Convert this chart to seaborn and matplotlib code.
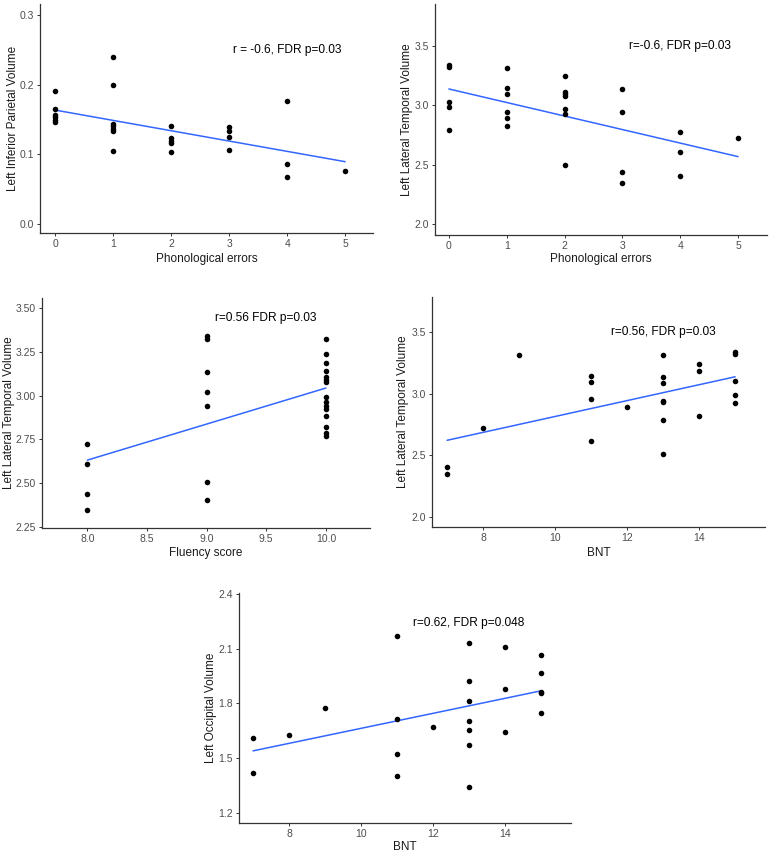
import matplotlib
matplotlib.use("Agg")
import matplotlib.pyplot as plt
import seaborn as sns
import numpy as np
import pandas as pd

sns.set_style("ticks")
plt.rcParams['font.family'] = ['Liberation Sans', 'DejaVu Sans']

# ---- Data ----
# Panel 1: Phonological errors vs Left Inferior Parietal Volume
p1_x = [0, 0, 0, 0, 0, 0,
        1, 1, 1, 1, 1, 1, 1,
        2, 2, 2, 2, 2,
        3, 3, 3, 3,
        4, 4, 4,
        5]
p1_y = [0.191, 0.1655, 0.157, 0.153, 0.150, 0.146,
        0.240, 0.1995, 0.144, 0.141, 0.136, 0.133, 0.105,
        0.141, 0.123, 0.119, 0.116, 0.103,
        0.139, 0.134, 0.1245, 0.106,
        0.176, 0.086, 0.0675,
        0.0756]

# Panel 2: Phonological errors vs Left Lateral Temporal Volume
p2_x = [0, 0, 0, 0, 0,
        1, 1, 1, 1, 1, 1,
        2, 2, 2, 2, 2, 2, 2,
        3, 3, 3, 3,
        4, 4, 4,
        5]
p2_y = [3.343, 3.32, 3.03, 2.985, 2.79,
        3.318, 3.145, 3.097, 2.94, 2.89, 2.826,
        3.245, 3.11, 3.095, 3.08, 2.965, 2.93, 2.50,
        3.136, 2.943, 2.44, 2.344,
        2.772, 2.61, 2.40,
        2.728]

# Panel 3: Fluency score vs Left Lateral Temporal Volume
p3_x = [8, 8, 8, 8,
        9, 9, 9, 9, 9, 9, 9,
        10, 10, 10, 10, 10, 10, 10, 10, 10, 10, 10, 10, 10, 10, 10]
p3_y = [2.724, 2.612, 2.44, 2.347,
        3.338, 3.323, 3.132, 3.022, 2.942, 2.507, 2.402,
        3.323, 3.239, 3.187, 3.142, 3.105, 3.09, 3.08, 2.989, 2.963,
        2.938, 2.925, 2.886, 2.818, 2.785, 2.772]

# Panel 4: BNT vs Left Lateral Temporal Volume
p4_x = [7, 7, 8, 9,
        11, 11, 11, 11,
        12,
        13, 13, 13, 13, 13, 13, 13,
        14, 14, 14,
        15, 15, 15, 15, 15]
p4_y = [2.403, 2.349, 2.724, 3.316,
        3.141, 3.092, 2.954, 2.614,
        2.889,
        3.316, 3.132, 3.086, 2.943, 2.935, 2.784, 2.508,
        3.24, 3.186, 2.819,
        3.338, 3.322, 3.105, 2.986, 2.924]

# Panel 5: BNT vs Left Occipital Volume
p5_x = [7, 7, 8, 9,
        11, 11, 11, 11,
        12,
        13, 13, 13, 13, 13, 13, 13,
        14, 14, 14,
        15, 15, 15, 15, 15]
p5_y = [1.609, 1.418, 1.627, 1.773,
        2.171, 1.716, 1.522, 1.405,
        1.671,
        2.133, 1.925, 1.815, 1.704, 1.655, 1.571, 1.344,
        2.107, 1.88, 1.642,
        2.062, 1.964, 1.862, 1.855, 1.745]

x_labels = ["Phonological errors", "Phonological errors", "Fluency score", "BNT", "BNT"]
y_labels = ["Left Inferior Parietal Volume", "Left Lateral Temporal Volume",
            "Left Lateral Temporal Volume", "Left Lateral Temporal Volume",
            "Left Occipital Volume"]
annotations = ["r = -0.6, FDR p=0.03", "r=-0.6, FDR p=0.03", "r=0.56 FDR p=0.03",
               "r=0.56, FDR p=0.03", "r=0.62, FDR p=0.048"]
annot_pos = [(4, 0.25), (4, 3.5), (9.5, 3.445), (13, 3.5), (13, 2.24)]

W, H = 772, 857
fig = plt.figure(figsize=(W / 100, H / 100), dpi=100)

# axes boxes in pixels: left, top, right, bottom
boxes = [(40, 4, 373, 233), (435, 4, 767, 235), (42, 298, 370, 528),
         (432, 297, 765, 527), (239, 593, 571, 823)]
xlims = [(-0.26, 5.48), (-0.24, 5.5), (7.62, 10.37), (6.58, 15.83), (6.61, 15.83)]
ylims = [(-0.013, 0.316), (1.907, 3.853), (2.244, 3.557), (1.919, 3.784), (1.145, 2.404)]
xticks = [[0, 1, 2, 3, 4, 5], [0, 1, 2, 3, 4, 5], [8.0, 8.5, 9.0, 9.5, 10.0],
          [8, 10, 12, 14], [8, 10, 12, 14]]
xfmt = ["{:.0f}", "{:.0f}", "{:.1f}", "{:.0f}", "{:.0f}"]
yticks = [[0.0, 0.1, 0.2, 0.3], [2.0, 2.5, 3.0, 3.5], [2.25, 2.50, 2.75, 3.00, 3.25, 3.50],
          [2.0, 2.5, 3.0, 3.5], [1.2, 1.5, 1.8, 2.1, 2.4]]
yfmt = ["{:.1f}", "{:.1f}", "{:.2f}", "{:.1f}", "{:.1f}"]
ylab_x = [-0.082, -0.085, -0.10, -0.086, -0.085]
xlab_y = [-0.115, -0.105, -0.11, -0.112, -0.103]

xs = [p1_x, p2_x, p3_x, p4_x, p5_x]
ys = [p1_y, p2_y, p3_y, p4_y, p5_y]

for i in range(5):
    l, t, r, b = boxes[i]
    ax = fig.add_axes([l / W, 1 - b / H, (r - l) / W, (b - t) / H])
    df = pd.DataFrame({"x": xs[i], "y": ys[i]})
    sns.regplot(data=df, x="x", y="y", ax=ax, ci=None, color="black",
                scatter_kws=dict(s=16, linewidths=0, color="black", alpha=1, zorder=3),
                line_kws=dict(color="#3366FF", lw=1.1, zorder=2))
    ax.set_xlim(*xlims[i])
    ax.set_ylim(*ylims[i])
    ax.set_xticks(xticks[i])
    ax.set_xticklabels([xfmt[i].format(v) for v in xticks[i]])
    ax.set_yticks(yticks[i])
    ax.set_yticklabels([yfmt[i].format(v) for v in yticks[i]])
    sns.despine(ax=ax)
    for s in ["left", "bottom"]:
        ax.spines[s].set_color("#333333")
        ax.spines[s].set_linewidth(0.9)
    ax.tick_params(axis="both", colors="#333333", labelcolor="#4D4D4D",
                   labelsize=7.5, length=2.5, width=0.7, pad=2)
    ax.set_xlabel(x_labels[i], fontsize=8.5, color="#1a1a1a")
    ax.set_ylabel(y_labels[i], fontsize=8.5, color="#1a1a1a")
    ax.yaxis.label.set_verticalalignment("center")
    ax.xaxis.label.set_verticalalignment("center")
    ax.yaxis.set_label_coords(ylab_x[i], 0.5)
    ax.xaxis.set_label_coords(0.5, xlab_y[i])
    ax.text(annot_pos[i][0], annot_pos[i][1], annotations[i], fontsize=8.6,
            ha="center", va="center", color="black")

fig.savefig("out.png", dpi=100)
